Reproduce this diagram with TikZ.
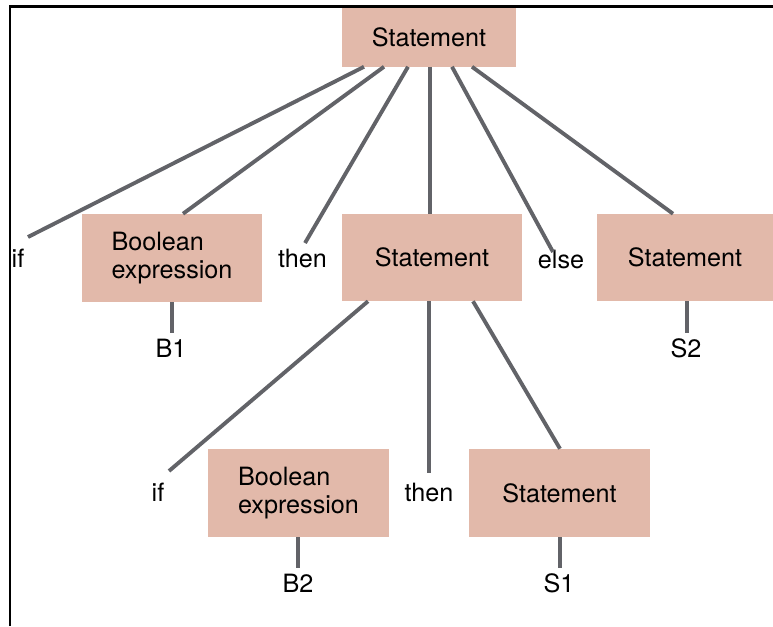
\documentclass[tikz,border=0pt]{standalone}
\usepackage{fontspec}
\setmainfont{TeX Gyre Heros}
\definecolor{boxpink}{HTML}{E2B9AA}
\definecolor{edgegray}{HTML}{626368}
\begin{document}
\begin{tikzpicture}[x=0.75pt,y=-0.75pt,
  font=\fontsize{18.9}{21}\selectfont,
  box/.style={rectangle, fill=boxpink, inner sep=0pt, align=left},
  lab/.style={anchor=base, inner sep=0pt},
  edge/.style={draw=edgegray, line width=2.9pt},
  frame/.style={draw=black, line width=2.1pt}]
\useasboundingbox (0,0) rectangle (773,626);

% frame along the top and the left side
\draw[frame] (10,626) -- (10,6.5) -- (773,6.5);

% parse tree nodes
\node[box, minimum width=130.5pt, minimum height=44.25pt] (top) at (429,37) {Statement};
\node[box, minimum width=135pt, minimum height=66pt] (bool1) at (172,258) {Boolean\\expression};
\node[box, minimum width=135pt, minimum height=65.25pt] (mid) at (432,257.5) {Statement};
\node[box, minimum width=132pt, minimum height=65.25pt] (right) at (685,257.5) {Statement};
\node[box, minimum width=135.75pt, minimum height=66pt] (bool2) at (298.5,493) {Boolean\\expression};
\node[box, minimum width=135.75pt, minimum height=66pt] (s1box) at (559.5,493) {Statement};

% terminal words
\node[lab] (if1) at (18,267) {if};
\node[lab] (then1) at (302.5,267) {then};
\node[lab] (else) at (561,268) {else};
\node[lab] (b1) at (171,357) {B1};
\node[lab] (s2) at (686,357) {S2};
\node[lab] (if2) at (158,501) {if};
\node[lab] (then2) at (429,501) {then};
\node[lab] (b2) at (298,592) {B2};
\node[lab] (s1) at (559,592) {S1};

% free ends of the branches above the words
\coordinate (e-if1) at (28,237);
\coordinate (e-then1) at (305,243);
\coordinate (e-else) at (553,252);
\coordinate (e-b1) at (172,333);
\coordinate (e-s2) at (687,333);
\coordinate (e-if2) at (169,471);
\coordinate (e-then2) at (429,473);
\coordinate (e-b2) at (298,568);
\coordinate (e-s1) at (560,568);

% branches of the top statement
\draw[edge] (364,0 |- top.south) -- (e-if1);
\draw[edge] (384,0 |- top.south) -- (183,0 |- bool1.north);
\draw[edge] (408,0 |- top.south) -- (e-then1);
\draw[edge] (430,0 |- top.south) -- (430,0 |- mid.north);
\draw[edge] (452,0 |- top.south) -- (e-else);
\draw[edge] (472,0 |- top.south) -- (673,0 |- right.north);
\draw[edge] (172,0 |- bool1.south) -- (e-b1);
\draw[edge] (687,0 |- right.south) -- (e-s2);

% branches of the nested statement
\draw[edge] (368,0 |- mid.south) -- (e-if2);
\draw[edge] (429,0 |- mid.south) -- (e-then2);
\draw[edge] (473,0 |- mid.south) -- (560,0 |- s1box.north);
\draw[edge] (298,0 |- bool2.south) -- (e-b2);
\draw[edge] (560,0 |- s1box.south) -- (e-s1);
\end{tikzpicture}
\end{document}
